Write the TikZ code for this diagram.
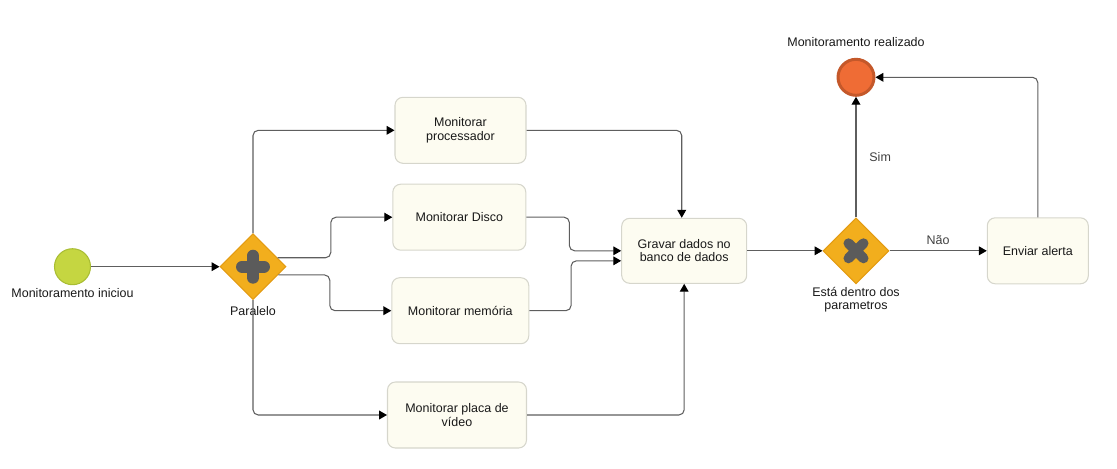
\documentclass[tikz,border=0pt]{standalone}
\usepackage{fontspec}
\setmainfont{Liberation Sans}
\usetikzlibrary{shapes.geometric,arrows.meta,calc}
\definecolor{taskfill}{HTML}{FDFCF1}
\definecolor{taskline}{HTML}{D6D6CC}
\definecolor{gatefill}{HTML}{F2AE1D}
\definecolor{gateline}{HTML}{E39B12}
\definecolor{symgrey}{HTML}{5B5B5B}
\definecolor{startfill}{HTML}{C5D641}
\definecolor{startline}{HTML}{A9BD33}
\definecolor{endfill}{HTML}{EF6C35}
\definecolor{endline}{HTML}{C4582A}
\definecolor{flowgrey}{HTML}{5E5E5E}
\def\bpmnpar(#1,#2,#3,#4){
  \node[gate, label={[lab, label distance=2pt]below:#4}] (#1) at (#2,#3) {};
  \draw[sym, line width=6.8pt] ($(#1.center)+(-11,0)$) -- ($(#1.center)+(11,0)$);
  \draw[sym, line width=6.8pt] ($(#1.center)+(0,-11)$) -- ($(#1.center)+(0,11)$);
}
\def\bpmnxor(#1,#2,#3,#4){
  \node[gate, label={[lab]below:#4}] (#1) at (#2,#3) {};
  \draw[sym, line width=5.7pt] ($(#1.center)+(-7.5,-7.5)$) -- ($(#1.center)+(7.5,7.5)$);
  \draw[sym, line width=5.7pt] ($(#1.center)+(-7.5,7.5)$) -- ($(#1.center)+(7.5,-7.5)$);
}

\begin{document}
\begin{tikzpicture}[x=0.02cm, y=-0.02cm,
  every node/.style={font=\fontsize{7.1}{7.6}\selectfont, text=black!90},
  task/.style={draw=taskline, fill=taskfill, rounded corners=4.5pt, align=center,
    minimum height=1.32cm, inner sep=2pt, line width=0.6pt},
  gate/.style={diamond, draw=gateline, fill=gatefill, line width=0.6pt,
    minimum width=1.32cm, minimum height=1.32cm, inner sep=0pt},
  sym/.style={draw=symgrey, line cap=round},
  lab/.style={align=center, inner sep=1.5pt},
  flow/.style={draw=flowgrey, line width=0.6pt, rounded corners=3pt,
    -{Triangle[length=4.5pt,width=5pt,color=black]}},
  cond/.style={text=black!75}]
\useasboundingbox (0,0) rectangle (1117,468);

% eventos
\node[circle, draw=startline, fill=startfill, line width=0.6pt, minimum size=0.72cm,
  inner sep=0pt, label={[lab]below:Monitoramento iniciou}] (inicio) at (72.5,266.7) {};
\node[circle, draw=endline, fill=endfill, line width=1.7pt, minimum size=0.72cm,
  inner sep=0pt, label={[lab, label distance=4.5pt]above:Monitoramento realizado}] (fim) at (856,77.3) {};

% gateways
\bpmnpar(paralelo,253,266.7,Paralelo)
\bpmnxor(decisao,856,250.8,Está dentro dos\\parametros)

% tarefas
\node[task, minimum width=2.62cm] (proc) at (460.5,130.3) {Monitorar\\processador};
\node[task, minimum width=2.66cm] (disco) at (459.3,217.2) {Monitorar Disco};
\node[task, minimum width=2.74cm] (mem) at (460.3,310.7) {Monitorar memória};
\node[task, minimum width=2.78cm] (placa) at (457,415) {Monitorar placa de\\vídeo};
\node[task, minimum width=2.50cm, minimum height=1.30cm] (gravar) at (684.2,250.8) {Gravar dados no\\banco de dados};
\node[task, minimum width=2.02cm] (alerta) at (1037.8,250.8) {Enviar alerta};

% fluxos
\draw[flow] (inicio.east) -- (paralelo.west);
\draw[flow] (paralelo.north) |- (proc.west);
\draw[flow] (paralelo.20) -| ([xshift=-35pt]disco.west) -- (disco.west);
\draw[flow] (paralelo.-18) -| ([xshift=-35pt]mem.west) -- (mem.west);
\draw[flow] (paralelo.south) |- (placa.west);
\draw[flow] (proc.east) -| ([xshift=-1.4pt]gravar.north);
\draw[flow] (disco.east) -| ([xshift=-29.5pt]gravar.west) -- (gravar.west);
\draw[flow] (mem.east) -| ([xshift=-28.5pt,yshift=-5.7pt]gravar.west) -- ([yshift=-5.7pt]gravar.west);
\draw[flow] (placa.east) -| (gravar.south);
\draw[flow] (gravar.east) -- (decisao.west);
\draw[flow] (decisao.north) -- node[cond, right, xshift=4pt] {Sim} (fim.south);
\draw[flow] (decisao.east) -- node[cond, above] {Não} (alerta.west);
\draw[flow] (alerta.north) |- (fim.east);
\end{tikzpicture}
\end{document}
